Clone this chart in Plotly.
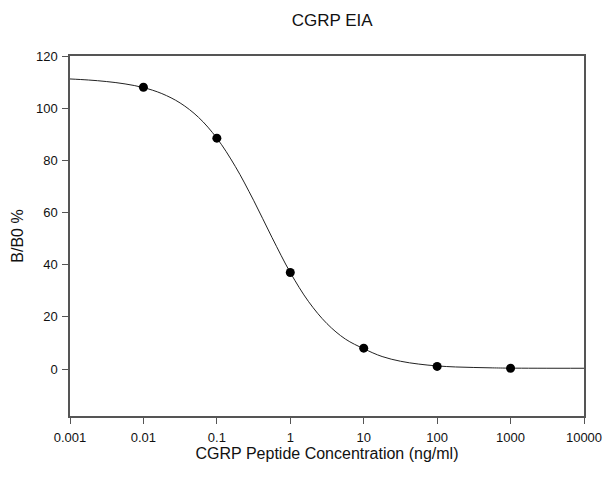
import plotly.graph_objects as go

# Measured data points
conc = [0.01, 0.1, 1, 10, 100, 1000]
bb0 = [108.0, 88.5, 37.0, 8.0, 1.0, 0.3]

# Fitted curve
curve_x = [0.001, 0.00178, 0.00316, 0.00562, 0.01, 0.0178, 0.0316, 0.0562,
           0.1, 0.178, 0.316, 0.562, 1, 1.78, 3.16, 5.62, 10, 17.8, 31.6,
           56.2, 100, 178, 316, 562, 1000, 10000]
curve_y = [111.2, 110.8, 110.2, 109.3, 107.9, 105.6, 102.0, 96.5,
           88.5, 77.7, 64.7, 50.5, 37.0, 25.8, 17.4, 11.5, 7.8, 4.8, 3.0,
           1.9, 1.2, 0.8, 0.6, 0.45, 0.35, 0.3]

x_ticks = [0.001, 0.01, 0.1, 1, 10, 100, 1000, 10000]
x_labels = ["0.001", "0.01", "0.1", "1", "10", "100", "1000", "10000"]
y_ticks = [0, 20, 40, 60, 80, 100, 120]

fig = go.Figure()
fig.add_trace(go.Scatter(x=curve_x, y=curve_y, mode="lines",
                         line=dict(color="#222222", width=1),
                         line_shape="spline", hoverinfo="skip",
                         showlegend=False))
fig.add_trace(go.Scatter(x=conc, y=bb0, mode="markers",
                         marker=dict(color="black", size=9),
                         showlegend=False))

FONT = "Liberation Sans, Arial, sans-serif"
axis_font = dict(family=FONT, size=13, color="#111111")
fig.update_layout(
    width=605, height=492,
    paper_bgcolor="white", plot_bgcolor="white",
    margin=dict(l=70, r=21, t=56, b=76),
    font=dict(family=FONT, color="#111111"),
    title=dict(text="CGRP EIA", x=0.549, xanchor="center", y=0.959, yanchor="middle",
               font=dict(size=17, color="#111111")),
    xaxis=dict(type="log", range=[-3, 4], tickvals=x_ticks, ticktext=x_labels,
               automargin=False,
               ticks="outside", ticklen=6, tickcolor="#555555",
               ticklabelstandoff=3,
               showline=True, linecolor="#555555", linewidth=1.5, mirror=True,
               showgrid=False, zeroline=False, tickfont=axis_font,
               title=dict(text="CGRP Peptide Concentration (ng/ml)",
                          font=dict(size=16), standoff=0)),
    yaxis=dict(range=[-18, 120], tickvals=y_ticks,
               automargin=False,
               ticks="outside", ticklen=6, tickcolor="#555555",
               ticklabelstandoff=2,
               showline=True, linecolor="#555555", linewidth=1.5, mirror=True,
               showgrid=False, zeroline=False, tickfont=axis_font,
               title=dict(text="B/B0 %", font=dict(size=16), standoff=8)),
)

fig.write_html(
    "out.html",
    config={"displayModeBar": False},
    post_script="document.body.style.margin='0';document.body.style.overflow='hidden';",
)
